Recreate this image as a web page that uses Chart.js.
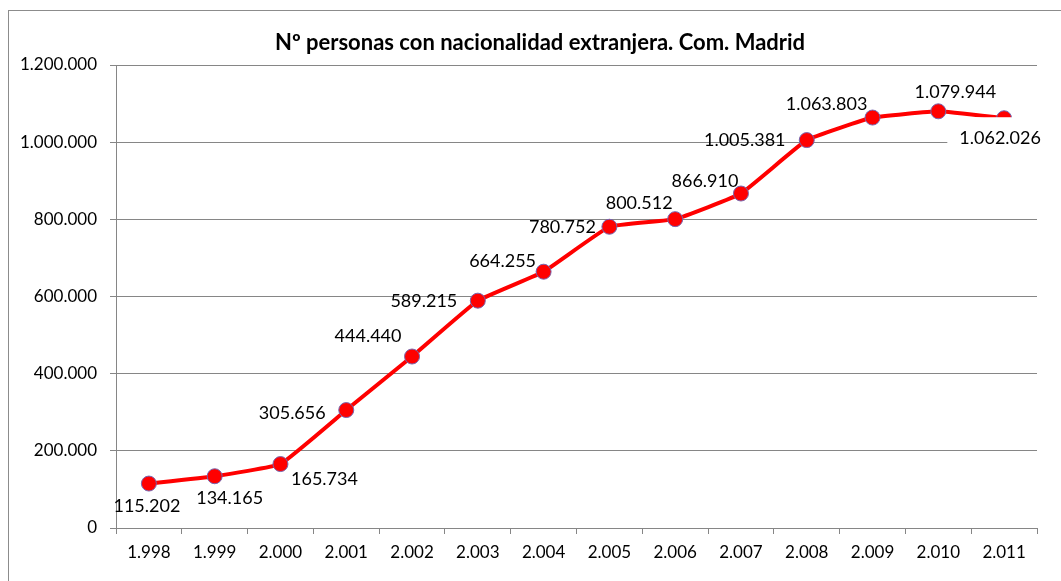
<!DOCTYPE html>
<html lang="es">
<head>
  <meta charset="UTF-8">
  <title>Nº personas con nacionalidad extranjera. Com. Madrid</title>
  <script src="https://cdn.jsdelivr.net/npm/chart.js"></script>
  <style>
    body { margin: 0; background: #fff; font-family: Lato, sans-serif; }
    .frame { position: absolute; left: 8px; top: 10px; width: 1100px; height: 620px; border: 1px solid #8c8c8c; }
    .wrap { position: absolute; left: 0; top: 0; width: 1061px; height: 581px; }
  </style>
</head>
<body>
  <div class="frame"></div>
  <div class="wrap"><canvas id="chart" width="1061" height="581"></canvas></div>
  <script>
    // datos
    const years = ['1.998','1.999','2.000','2.001','2.002','2.003','2.004','2.005','2.006','2.007','2.008','2.009','2.010','2.011'];
    const extranjeros = [115202, 134165, 165734, 305656, 444440, 589215, 664255, 780752, 800512, 866910, 1005381, 1063803, 1079944, 1062026];
    const yMax = 1200000;
    const yStep = 200000;
    const chartTitle = 'Nº personas con nacionalidad extranjera. Com. Madrid';

    // posición de cada etiqueta respecto a su punto (como en el original)
    const labelShift = [[-2,23],[15,22],[44,15],[-54,3],[-44,-20],[-54,1],[-41,-11],[-47,0],[-36,-16],[-36,-12],[-62,0],[-46,-13],[17,-19],[-4,20]];

    const fmt = v => String(v).replace(/\B(?=(\d{3})+(?!\d))/g, '.');

    const titlePlugin = {
      id: 'tituloExcel',
      afterDraw(chart) {
        const c = chart.ctx;
        c.save();
        c.font = 'bold 22px Lato';
        c.fillStyle = '#000';
        c.textAlign = 'center';
        c.textBaseline = 'middle';
        c.fillText(chartTitle, 540, 43);
        c.restore();
      }
    };

    const labelPlugin = {
      id: 'etiquetas',
      afterDatasetsDraw(chart) {
        const c = chart.ctx;
        const pts = chart.getDatasetMeta(0).data;
        c.save();
        c.font = '18px Lato';
        c.textAlign = 'center';
        c.textBaseline = 'middle';
        pts.forEach((p, i) => {
          const x = p.x + labelShift[i][0], y = p.y + labelShift[i][1];
          const txt = fmt(extranjeros[i]);
          if (i === pts.length - 1) {
            // la última etiqueta tapa la línea
            const w = c.measureText(txt).width + 24;
            c.fillStyle = '#fff';
            c.fillRect(x - w / 2, p.y - 1, w, 44);
          }
          c.fillStyle = '#000';
          c.fillText(txt, x, y);
        });
        c.restore();
      }
    };

    new Chart(document.getElementById('chart'), {
      type: 'line',
      data: {
        labels: years,
        datasets: [{
          data: extranjeros,
          borderColor: '#ff0000',
          borderWidth: 4,
          tension: 0.1,
          pointRadius: 7.5,
          pointBackgroundColor: '#ff0000',
          pointBorderColor: '#7466b0',
          pointBorderWidth: 1
        }]
      },
      options: {
        responsive: false,
        animation: false,
        layout: { padding: { top: 65, right: 24, left: 0, bottom: 0 } },
        plugins: { legend: { display: false }, title: { display: false }, tooltip: { enabled: false } },
        scales: {
          x: {
            offset: true,
            grid: { offset: true, drawOnChartArea: false, tickLength: 6, color: '#868686' },
            border: { color: '#868686' },
            ticks: { color: '#000', font: { family: 'Lato', size: 17 }, padding: 8, maxRotation: 0 },
            afterFit(s) { s.height = 53; }
          },
          y: {
            min: 0, max: yMax,
            grid: { color: '#868686', tickLength: 6 },
            border: { color: '#868686' },
            ticks: { stepSize: yStep, color: '#000', font: { family: 'Lato', size: 17 }, padding: 13, callback: v => fmt(v) },
            afterFit(s) { s.width = 116; }
          }
        }
      },
      plugins: [titlePlugin, labelPlugin]
    });
  </script>
</body>
</html>
